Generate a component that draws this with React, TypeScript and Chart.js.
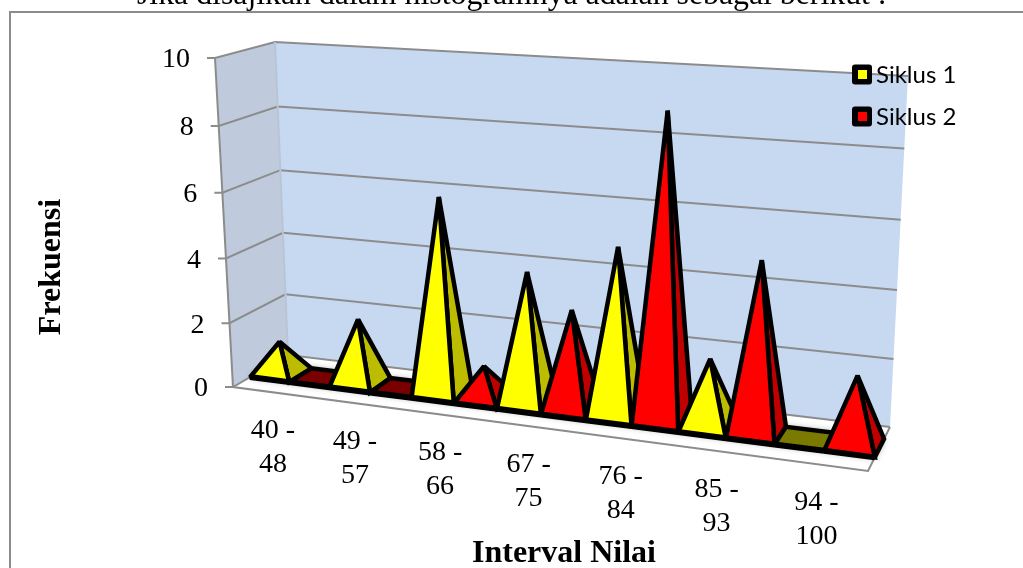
import React, { useEffect, useRef } from "react";
import { Chart, registerables } from "chart.js";

Chart.register(...registerables);

const categories = [
  ["40 -", "48"],
  ["49 -", "57"],
  ["58 -", "66"],
  ["67 -", "75"],
  ["76 -", "84"],
  ["85 -", "93"],
  ["94 -", "100"],
];
const siklus1 = [1, 2, 6, 4, 5, 2, 0];
const siklus2 = [0, 0, 1, 3, 9, 5, 2];
const seriesNames = ["Siklus 1", "Siklus 2"];
const seriesColors = ["#ffff00", "#ff0000"];
const sideColors = ["#bcbc00", "#c00000"];
const flatColors = ["#7a7a00", "#7a0000"];
const caption = "Jika disajikan dalam histogramnya adalah sebagai berikut :";
const xTitle = "Interval Nilai";
const yTitle = "Frekuensi";

const SERIF = '"Liberation Serif", serif';
const GRID = "#8c8c8c";

type P = [number, number];
const lerp = (a: number, b: number, t: number) => a + (b - a) * t;
const warp = (t: number, k: number) => t / (t + k * (1 - t));
const lerpP = (a: P, b: P, t: number): P => [lerp(a[0], b[0], t), lerp(a[1], b[1], t)];

// Box of the 3-D plot on screen: floor and ceiling corners
const floorFL: P = [233, 387], floorFR: P = [868, 471], floorBL: P = [288, 355], floorBR: P = [890, 427];
const topFL: P = [215, 58], topFR: P = [887, 102], topBL: P = [275, 42], topBR: P = [908, 76];

function project(u: number, v: number, d: number): P {
  const s = warp(u, 1.148);
  const w = warp(v, 1.04);
  const floor = lerpP(lerpP(floorFL, floorFR, s), lerpP(floorBL, floorBR, s), d);
  const top = lerpP(lerpP(topFL, topFR, s), lerpP(topBL, topBR, s), d);
  return lerpP(floor, top, w);
}

function poly(ctx: CanvasRenderingContext2D, pts: P[], close = true) {
  ctx.beginPath();
  pts.forEach((p, i) => (i ? ctx.lineTo(p[0], p[1]) : ctx.moveTo(p[0], p[1])));
  if (close) ctx.closePath();
}

const DF = 0.31, DB = 0.73, DM = 0.52;

const pyramidPlugin = {
  id: "pyramid3d",
  beforeDatasetsDraw(chart: any) {
    const ctx: CanvasRenderingContext2D = chart.ctx;
    const area = chart.chartArea;
    const xs = chart.scales.x, ys = chart.scales.y;
    const U = (px: number) => (px - area.left) / area.width;
    const V = (val: number) => (val - ys.min) / (ys.max - ys.min);
    ctx.save();

    // frame + caption
    ctx.fillStyle = "#000";
    ctx.font = `31.8px ${SERIF}`;
    ctx.textAlign = "left";
    ctx.textBaseline = "alphabetic";
    ctx.fillText(caption, 137, 4);
    ctx.strokeStyle = GRID;
    ctx.lineWidth = 2;
    poly(ctx, [[10, 600], [10, 12], [1030, 12]], false);
    ctx.stroke();

    // walls and floor
    poly(ctx, [project(0, 0, 0), project(0, 1, 0), project(0, 1, 1), project(0, 0, 1)]);
    ctx.fillStyle = "#bfcbdc";
    ctx.fill();
    poly(ctx, [project(0, 0, 1), project(0, 1, 1), project(1, 1, 1), project(1, 0, 1)]);
    ctx.fillStyle = "#c6d9f0";
    ctx.fill();
    poly(ctx, [project(0, 0, 0), project(1, 0, 0), project(1, 0, 1), project(0, 0, 1)]);
    ctx.fillStyle = "#ffffff";
    ctx.fill();

    ctx.strokeStyle = GRID;
    ctx.lineWidth = 2;
    ys.ticks.forEach((t: any) => {
      const v = V(t.value);
      const a = project(0, v, 0), b = project(0, v, 1), c = project(1, v, 1);
      poly(ctx, [[a[0] - 8, a[1]], a, b, c], false);
      ctx.stroke();
    });
    poly(ctx, [project(0, 1, 0), project(0, 0, 0), project(1, 0, 0), project(1, 0, 1)], false);
    ctx.stroke();
    poly(ctx, [project(0, 0, 1), project(0, 1, 1)], false);
    ctx.strokeStyle = "#b9c5d6";
    ctx.stroke();

    // y tick labels
    ctx.fillStyle = "#000";
    ctx.font = `28px ${SERIF}`;
    ctx.textAlign = "right";
    ctx.textBaseline = "middle";
    ys.ticks.forEach((t: any) => {
      const a = project(0, V(t.value), 0);
      ctx.fillText(String(t.value), a[0] - 25, a[1] + 2);
    });

    // x tick labels
    ctx.textAlign = "center";
    categories.forEach((_, i) => {
      const lines = chart.data.labels[i] as string[];
      const a = project(U(xs.getPixelForValue(i)), 0, 0);
      lines.forEach((line, j) => ctx.fillText(line, a[0], a[1] + 38.5 + j * 34));
    });

    // axis titles
    ctx.font = `bold 32px ${SERIF}`;
    ctx.fillText(xTitle, 564, 554);
    ctx.save();
    ctx.translate(52, 267);
    ctx.rotate(-Math.PI / 2);
    ctx.fillText(yTitle, 0, 0);
    ctx.restore();

    // bars as pyramids, back-to-front along the axis
    const bars: any[] = [];
    chart.data.datasets.forEach((ds: any, di: number) => {
      chart.getDatasetMeta(di).data.forEach((el: any, i: number) => {
        bars.push({ el, di, value: ds.data[i] });
      });
    });
    bars.sort((a, b) => a.el.x - b.el.x);

    const geo = bars.map((b) => {
      const u0 = U(b.el.x - b.el.width / 2);
      const u1 = U(b.el.x + b.el.width / 2);
      return {
        ...b,
        FL: project(u0, 0, DF),
        FR: project(u1, 0, DF),
        BR: project(u1, 0, DB),
        BL: project(u0, 0, DB),
        AP: project((u0 + u1) / 2, V(b.value), DM),
      };
    });

    // soft shadow on the floor
    ctx.save();
    ctx.shadowColor = "rgba(0,0,0,0.45)";
    ctx.shadowBlur = 7;
    ctx.fillStyle = "#555";
    geo.forEach((g) => {
      poly(ctx, [g.FL, g.FR, g.BR, g.BL]);
      ctx.fill();
    });
    ctx.restore();

    ctx.strokeStyle = "#000";
    ctx.lineJoin = "miter";
    ctx.miterLimit = 2;
    geo.forEach((g) => {
      ctx.lineWidth = 4.5;
      if (g.value === 0) {
        poly(ctx, [g.FL, g.FR, g.BR, g.BL]);
        ctx.fillStyle = flatColors[g.di];
        ctx.fill();
        ctx.stroke();
      } else {
        poly(ctx, [g.FR, g.BR, g.AP]);
        ctx.fillStyle = sideColors[g.di];
        ctx.fill();
        ctx.stroke();
        poly(ctx, [g.FL, g.FR, g.AP]);
        ctx.fillStyle = chart.data.datasets[g.di].backgroundColor;
        ctx.fill();
        ctx.stroke();
      }
      ctx.lineWidth = 6;
      poly(ctx, [g.FL, g.FR], false);
      ctx.stroke();
    });

    // legend
    ctx.textAlign = "left";
    ctx.textBaseline = "middle";
    ctx.font = "24px Lato";
    chart.data.datasets.forEach((ds: any, di: number) => {
      const y = 75 + di * 42;
      ctx.beginPath();
      ctx.roundRect(852, y - 10.5, 20, 20, 3);
      ctx.fillStyle = "#000";
      ctx.fill();
      ctx.fillStyle = ds.backgroundColor;
      ctx.fillRect(858, y - 5, 9, 9);
      ctx.fillStyle = "#000";
      ctx.fillText(ds.label, 876, y);
    });

    ctx.restore();
    return false;
  },
};

export default function App() {
  const ref = useRef<HTMLCanvasElement | null>(null);
  useEffect(() => {
    document.body.style.margin = "0";
    document.body.style.overflow = "hidden";
    const chart = new Chart(ref.current as HTMLCanvasElement, {
      type: "bar",
      data: {
        labels: categories as any,
        datasets: [
          { label: seriesNames[0], data: siklus1, backgroundColor: seriesColors[0] },
          { label: seriesNames[1], data: siklus2, backgroundColor: seriesColors[1] },
        ],
      },
      options: {
        responsive: false,
        animation: false,
        datasets: { bar: { categoryPercentage: 1, barPercentage: 1 } },
        plugins: { legend: { display: false }, title: { display: false }, tooltip: { enabled: false } },
        scales: {
          x: { display: false },
          y: { display: false, min: 0, max: 10, ticks: { stepSize: 2 } },
        },
      },
      plugins: [pyramidPlugin],
    } as any);
    return () => chart.destroy();
  }, []);
  return <canvas ref={ref} width={1023} height={568} style={{ display: "block" }} />;
}
